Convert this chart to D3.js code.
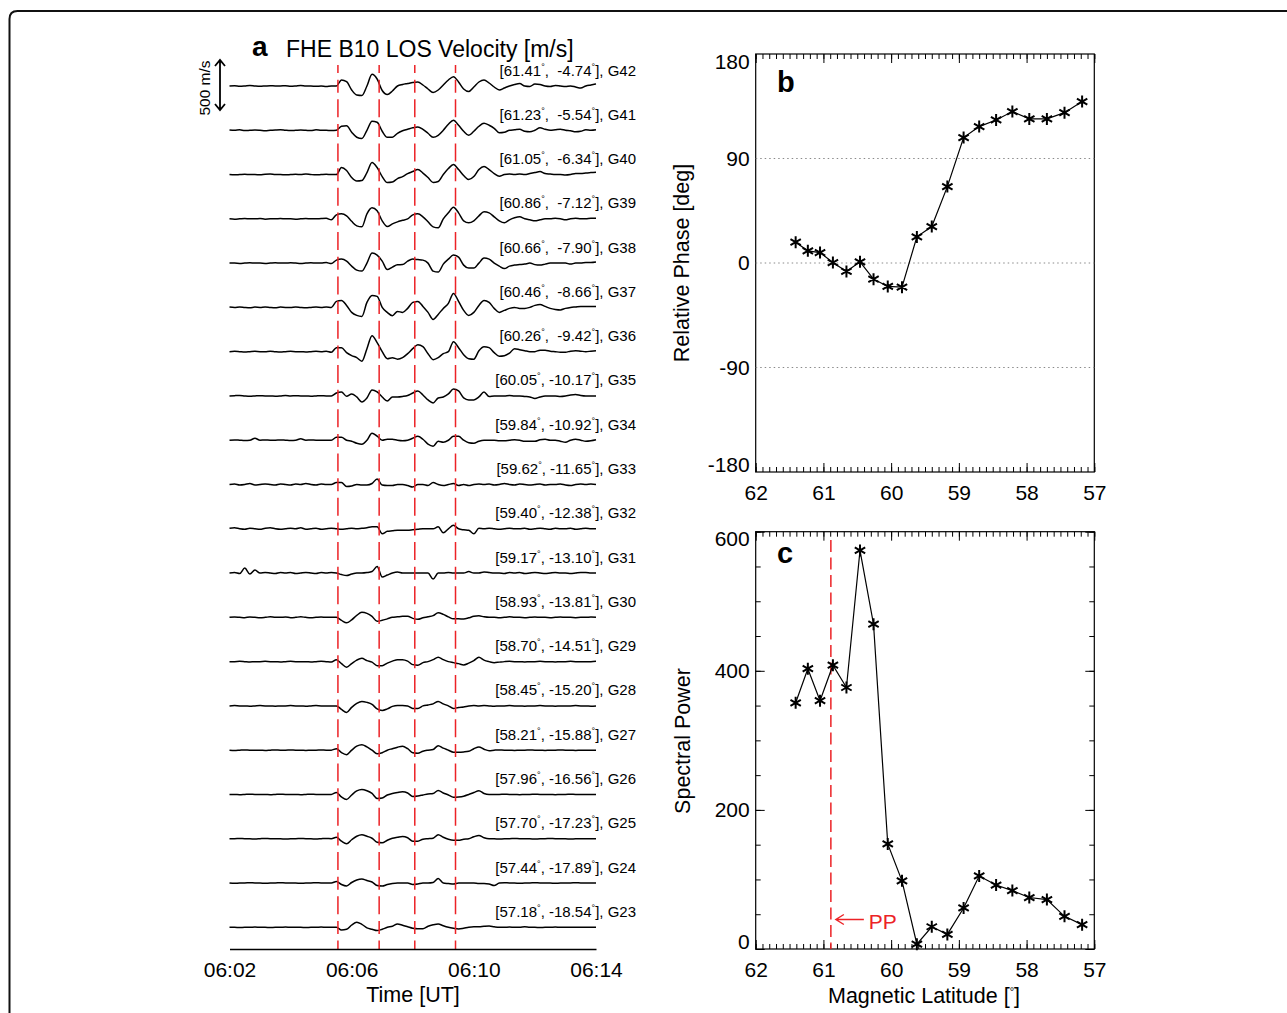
<!DOCTYPE html>
<html><head><meta charset="utf-8">
<script src="https://cdn.jsdelivr.net/npm/d3@7"></script>
<style>
body{margin:0;background:#fff;}
svg{display:block;font-family:"Liberation Sans",Arial,Helvetica,sans-serif;}
</style></head><body>
<svg id="c" width="1287" height="1013"></svg>
<script>
// ---------------- DATA ----------------
const gateNames = ["G42","G41","G40","G39","G38","G37","G36","G35","G34","G33","G32","G31","G30","G29","G28","G27","G26","G25","G24","G23"];
const gateLat = ["61.41","61.23","61.05","60.86","60.66","60.46","60.26","60.05","59.84","59.62","59.40","59.17","58.93","58.70","58.45","58.21","57.96","57.70","57.44","57.18"];
const gateLon = ["-4.74","-5.54","-6.34","-7.12","-7.90","-8.66","-9.42","-10.17","-10.92","-11.65","-12.38","-13.10","-13.81","-14.51","-15.20","-15.88","-16.56","-17.23","-17.89","-18.54"];
const timeStart = "06:02:00", timeEnd = "06:14:00";
const sampleSec = 10;
const timeTicks = ["06:02:00","06:06:00","06:10:00","06:14:00"];
const markTimes = ["06:05:33","06:06:54","06:08:04","06:09:24"];
const scaleBarMs = 500;

// LOS velocity deviations [m/s], one value every 10 s from 06:02:00 to 06:14:00
const v_G42 = [0,3,-3,0,5,0,-3,0,3,0, 0,3,-3,0,5,0,0,-3,0,-5, 0,0,60,43,-40,-90,-95,0,117,70, -45,-85,-50,0,15,25,35,40,10,-30, -65,-40,10,60,93,40,-30,-55,-10,40, 60,30,-10,-40,-20,0,15,25,0,-5, 20,15,0,-5,5,0,-5,0,-10,-20, 0,10,20];
const v_G41 = [3,0,5,-3,0,3,0,-5,0,3, 5,0,-3,0,3,0,-3,5,0,0, -3,0,40,45,-20,-70,-83,0,90,80, -10,-70,-70,-30,-5,10,25,33,10,-30, -70,-50,0,60,100,50,-10,-50,-10,40, 70,50,20,-25,-20,0,5,10,-10,-15, 0,25,10,0,5,10,0,-5,-15,-10, 5,0,5];
const v_G40 = [0,-3,0,3,0,0,-3,3,5,0, 0,-3,0,3,0,5,0,-3,0,3, 0,0,70,40,-30,-65,-60,20,120,70, -20,-80,-75,-40,-20,10,30,50,15,-30, -80,-70,0,60,100,50,-10,-50,-20,50, 80,50,10,-17,0,5,0,5,0,10, 20,30,10,5,0,0,-5,0,10,10, 15,20,23];
const v_G39 = [0,-3,0,3,0,0,3,-3,0,0, 3,0,0,-3,0,3,0,0,3,5, -10,40,50,30,-25,-70,-80,50,110,80, -20,-77,-50,-30,-15,0,40,50,20,-30, -80,-90,0,60,117,60,-20,-40,-20,30, 70,60,20,-20,-40,-10,10,20,0,-10, -20,-10,0,0,5,0,-10,0,5,0, 0,5,5];
const v_G38 = [0,0,-3,0,3,0,0,-3,0,3, 0,0,3,0,-3,0,3,0,0,5, -5,30,40,20,-30,-70,-80,0,100,80, 20,-65,-40,-17,-15,20,40,35,30,0, -80,-90,-10,40,80,60,-20,-50,-50,0, 50,40,0,-30,-55,-30,-20,-15,-10,0, -15,-20,-10,0,0,0,0,-10,0,0, 5,5,10];
const v_G37 = [3,0,5,0,-3,3,0,5,0,-3, 3,0,0,5,0,-3,0,3,0,5, 0,60,70,20,-50,-80,-90,50,120,110, 0,-50,-83,-40,-50,-10,50,60,10,-50, -120,-70,-10,40,140,60,-30,-80,-50,20, 70,50,-10,-50,-30,-10,0,-10,-10,0, 20,30,10,-10,-20,-25,-10,0,5,10, 10,10,10];
const v_G36 = [0,3,0,-3,0,3,0,0,5,0, -3,0,3,0,0,-3,0,3,0,5, -5,40,40,-10,-40,-60,-95,30,160,90, 0,-70,-60,-75,-60,-20,30,70,50,-20, -80,-60,-20,0,100,40,-30,-70,-75,10, 50,40,-10,-45,-40,-15,30,20,10,0, 0,15,15,5,0,-5,-5,5,10,5, 0,5,10];
const v_G35 = [0,3,5,0,-3,0,3,0,0,-3, 0,5,0,3,0,0,-3,0,3,0, 0,30,40,-3,20,-10,-60,-20,60,40, -10,-50,-10,-10,-5,5,30,50,10,-40, -70,-20,-10,20,70,50,-20,-40,-40,-10, 40,-5,0,0,0,5,0,0,-5,-10, -25,-10,0,0,0,-5,0,10,15,5, 0,0,0];
const v_G34 = [0,3,0,-3,0,20,0,3,0,0, 3,0,-3,0,15,0,3,0,0,0, 0,30,30,0,-10,-30,-40,0,70,40, 0,10,10,0,-5,0,20,40,10,-40, -60,-10,-20,0,40,40,0,-25,-30,-10, 0,0,0,-5,-5,0,5,0,-10,-10, -10,5,10,0,0,-10,-20,0,10,0, -10,-5,5];
const v_G33 = [0,5,-5,0,10,-5,0,5,0,-5, 5,0,-5,5,0,10,0,-5,5,0, 0,20,20,-20,-15,0,-5,-5,10,55, -5,-10,-10,0,0,-10,-25,0,0,-10, 20,0,-10,0,10,-10,0,-10,0,5, 0,5,-5,0,10,0,-5,5,0,-5, 0,5,-5,0,0,5,-5,-10,0,5, 0,5,0];
const v_G32 = [5,10,0,-5,5,0,-5,5,10,0, -5,0,5,0,10,-5,0,5,-5,0, 5,0,-5,0,5,0,5,10,20,20, -50,-25,-20,-15,-15,-15,-10,-5,0,0, 0,20,-40,0,35,0,-10,-15,-50,5, 0,5,0,-5,0,5,0,0,5,-5, 0,5,0,-5,5,0,0,5,-5,0, 5,0,0];
const v_G31 = [0,5,-5,50,-10,30,0,5,0,-5, 5,0,5,-5,0,5,0,-5,5,0, 5,0,-15,-25,-10,0,0,5,15,65, -40,-20,0,10,0,0,0,0,0,0, -60,0,0,5,0,0,0,15,0,0, 10,5,0,0,-5,5,0,5,-5,0, 5,0,-5,0,5,0,0,-5,0,5, 5,0,0];
const v_G30 = [0,3,0,-3,3,0,-3,0,5,0, 0,3,-3,0,5,0,-3,0,3,0, 0,0,-30,-55,-25,20,50,40,10,-40, -30,-15,0,5,10,10,-10,-20,-5,5, 17,45,30,5,-15,-15,-17,-5,10,15, 5,0,0,-5,0,5,0,0,-3,0, 3,0,0,-3,0,3,0,0,-3,0, 0,3,0];
const v_G29 = [0,0,3,0,-3,0,0,3,0,0, -3,0,3,0,0,0,-3,0,3,0, -3,20,-20,-55,-20,15,33,10,-5,-40, -40,-15,5,20,20,5,-30,-35,-10,0, 20,45,20,0,-10,-20,-33,-15,10,43, 15,0,-10,-5,0,3,0,0,-3,0, 0,3,0,0,-3,0,0,3,0,0, 0,0,3];
const v_G28 = [0,3,0,0,-3,0,3,0,0,-3, 0,0,3,0,0,-3,0,3,0,0, 0,0,-35,-65,-15,25,45,35,15,-30, -45,-30,-5,5,5,0,-25,-25,0,10, 20,45,20,0,-25,-15,-10,0,5,0, 3,0,-3,0,0,3,0,0,-3,0, 0,3,0,0,-3,0,0,0,3,0, 0,-3,0];
const v_G27 = [0,-3,0,3,0,0,0,-3,0,3, 0,0,3,0,0,-3,0,0,3,0, 0,15,-25,-45,0,40,55,33,0,-35, -25,0,15,30,40,15,-25,-30,-10,0, 7,45,20,0,-20,-20,-17,-10,15,33, 10,-5,0,3,0,0,-3,0,0,3, 0,0,-3,0,0,3,0,0,-3,0, 0,0,0];
const v_G26 = [0,0,-3,0,3,0,0,0,-3,0, 3,0,0,0,-3,0,3,0,0,0, 0,20,-25,-50,-5,35,50,37,10,-40, -35,-5,10,20,27,15,-20,-15,-5,5, 10,40,15,-5,-28,-25,-17,0,20,37, 10,0,0,0,3,0,0,-3,0,0, 3,0,0,0,-3,0,0,3,0,0, 0,0,0];
const v_G25 = [0,0,3,0,0,-3,0,3,0,0, 0,-3,0,0,3,0,0,-3,0,3, 0,15,-25,-50,-10,25,40,25,5,-35, -40,-15,5,15,23,10,-25,-25,-5,0, 5,40,15,-5,-15,-15,-5,0,20,33, 10,0,0,-3,0,0,3,0,0,0, -3,0,0,3,0,0,0,-3,0,0, 0,0,0];
const v_G24 = [0,-3,0,0,3,0,0,-3,0,0, 3,0,0,0,-3,0,0,3,0,0, 0,15,-15,-30,5,30,40,25,10,-25, -30,-15,-5,0,0,0,-15,-10,0,0, 5,45,0,-5,-10,0,0,0,0,-5, -5,-10,-25,0,3,0,0,-3,0,0, 3,0,0,0,-3,0,0,0,3,0, 0,0,0];
const v_G23 = [0,0,-3,0,0,3,0,0,-3,0, 0,3,0,0,0,-3,0,0,3,0, 0,0,-27,-20,23,50,30,-5,-20,-33, -20,0,10,33,20,5,-10,-15,-15,10, 25,33,15,0,-10,-17,-10,0,5,5, 10,13,5,0,0,3,0,0,5,0, 0,-3,0,0,3,0,0,0,0,0, 0,0,0];
const traces = [v_G42,v_G41,v_G40,v_G39,v_G38,v_G37,v_G36,v_G35,v_G34,v_G33,v_G32,v_G31,v_G30,v_G29,v_G28,v_G27,v_G26,v_G25,v_G24,v_G23];

// panels b / c (one value per gate, same order as gateLat)
const phaseLat = gateLat.map(Number);
const relPhase = [17.9,10.5,9.0,0.4,-7.3,1.0,-13.9,-20.2,-20.8,22.5,31.4,65.8,108,117.5,123.2,130.4,124.1,124.1,129.5,139];
const specPower = [354,403,357,408,376,573,467,151,98,7,32,21,59,105,92,84,74,71,47,35];
const ppLat = 60.89;
const latTicks = [62,61,60,59,58,57];
const phaseTicks = [-180,-90,0,90,180];
const phaseGrid = [-90,0,90];
const powerTicks = [0,200,400,600];

// ---------------- DRAWING ----------------
const svg = d3.select("#c");
const red = "#ec2226";
const FS = 21;

// outer frame (rounded top-left corner, continues beyond picture)
svg.append("path")
  .attr("d", "M9.5,1030 L9.5,19 Q9.5,11 17.5,11 L1300,11")
  .attr("fill","none").attr("stroke","#111").attr("stroke-width",2);

// ---- Panel a ----
const parseT = d3.timeParse("%H:%M:%S");
const t0 = parseT(timeStart);
const xT = d3.scaleTime().domain([t0, parseT(timeEnd)]).range([229.5, 596]);
const yRow = d3.scalePoint().domain(gateNames).range([86, 927.3]);
const amp = d3.scaleLinear().domain([-500, 500]).range([50, -50]);
const tAt = i => new Date(t0.getTime() + i * sampleSec * 1000);
const lineT = d3.line().x((v,i) => xT(tAt(i))).y(v => amp(v)).curve(d3.curveMonotoneX);

const gA = svg.append("g");
gateNames.forEach((g, k) => {
  const row = gA.append("g").attr("transform", `translate(0,${yRow(g)})`);
  row.append("path").attr("d", lineT(traces[k]))
    .attr("fill","none").attr("stroke","#000").attr("stroke-width",1.5).attr("stroke-linejoin","round");
  const lon = gateLon[k];
  const t = row.append("text").attr("x", 636).attr("y", -10.5)
    .attr("text-anchor","end").attr("font-size",15).style("white-space","pre");
  t.append("tspan").text("[" + gateLat[k]);
  t.append("tspan").attr("font-size",9).attr("dy",-6).text("°");
  t.append("tspan").attr("dy",6).text("," + (lon.length < 6 ? "  " : " ") + lon);
  t.append("tspan").attr("font-size",9).attr("dy",-6).text("°");
  t.append("tspan").attr("dy",6).text("], " + g);
});

// red dashed marker lines
markTimes.forEach(m => {
  const x = xT(parseT(m));
  gA.append("line").attr("x1",x).attr("x2",x).attr("y1",65).attr("y2",949)
    .attr("stroke",red).attr("stroke-width",1.5)
    .attr("stroke-dasharray","18,6.7,13,6.58").attr("stroke-dashoffset",10);
});

// time axis
const axT = svg.append("g").attr("transform","translate(0,949)")
  .call(d3.axisBottom(xT).tickValues(timeTicks.map(parseT)).tickSize(0).tickPadding(13)
    .tickFormat(d3.timeFormat("%H:%M")));
axT.attr("font-size",FS).attr("font-family",null);
axT.select(".domain").attr("stroke-width",1.3);
svg.append("text").attr("x",413).attr("y",1002).attr("text-anchor","middle")
  .attr("font-size",21.5).text("Time [UT]");

// title
svg.append("text").attr("x",252).attr("y",56).attr("font-size",28).attr("font-weight","bold").text("a");
svg.append("text").attr("x",286).attr("y",56.5).attr("font-size",23).text("FHE B10 LOS Velocity [m/s]");

// scale bar
const arrowX = 220, arrowC = 85;
const aTop = arrowC + amp(scaleBarMs/2), aBot = arrowC + amp(-scaleBarMs/2);
svg.append("path")
  .attr("d", `M${arrowX},${aTop}L${arrowX},${aBot}M${arrowX-5},${aTop+6}L${arrowX},${aTop}L${arrowX+5},${aTop+6}M${arrowX-5},${aBot-6}L${arrowX},${aBot}L${arrowX+5},${aBot-6}`)
  .attr("fill","none").attr("stroke","#000").attr("stroke-width",1.8);
svg.append("text").attr("transform",`translate(210,88) rotate(-90)`).attr("text-anchor","middle")
  .attr("font-size",15.5).text(scaleBarMs + " m/s");

// ---- panels b & c shared ----
const xL = d3.scaleLinear().domain([62,57]).range([755.7,1094.3]);
const minorLat = d3.range(570, 621).map(d => d/10);

function latFrame(y0, y1) {
  const g = svg.append("g");
  g.append("rect").attr("x",xL(62)).attr("y",y0).attr("width",xL(57)-xL(62)).attr("height",y1-y0)
    .attr("fill","none").attr("stroke","#000").attr("stroke-width",1.2);
  const add = (gen) => {
    const a = g.append("g").call(gen);
    a.select(".domain").remove();
    a.attr("font-size",FS).attr("font-family",null);
    return a;
  };
  add(d3.axisBottom(xL).tickValues(minorLat).tickSize(-5).tickFormat("")).attr("transform",`translate(0,${y1})`);
  add(d3.axisBottom(xL).tickValues(latTicks).tickSize(-9).tickPadding(13).tickFormat(d => d)).attr("transform",`translate(0,${y1})`);
  add(d3.axisTop(xL).tickValues(minorLat).tickSize(-5).tickFormat("")).attr("transform",`translate(0,${y0})`);
  add(d3.axisTop(xL).tickValues(latTicks).tickSize(-9).tickFormat("")).attr("transform",`translate(0,${y0})`);
  return {g, add};
}

function asterisk(x, y, r) {
  const p = d3.path();
  const c = r * Math.cos(Math.PI/6), s = r * Math.sin(Math.PI/6);
  p.moveTo(x, y - r); p.lineTo(x, y + r);
  p.moveTo(x - c, y - s); p.lineTo(x + c, y + s);
  p.moveTo(x - c, y + s); p.lineTo(x + c, y - s);
  return p.toString();
}

function shiftEnds(axisG, lo, hi) {
  axisG.selectAll(".tick text").attr("y", d => d === hi ? 7.5 : (d === lo ? -7 : 0));
}

// ---- Panel b ----
const yB = d3.scaleLinear().domain([-180,180]).range([472,54]);
const fb = latFrame(54, 472);
phaseGrid.forEach(v => {
  fb.g.append("line").attr("x1",xL(62)).attr("x2",xL(57)).attr("y1",yB(v)).attr("y2",yB(v))
    .attr("stroke","#8a8a8a").attr("stroke-width",1).attr("stroke-dasharray","1.5,3");
});
const axB = fb.add(d3.axisLeft(yB).tickValues(phaseTicks).tickSize(0).tickPadding(6).tickFormat(d => String(d)))
  .attr("transform",`translate(${xL(62)},0)`);
shiftEnds(axB, -180, 180);
fb.g.append("path").attr("d", d3.line().x((d,i) => xL(phaseLat[i])).y(d => yB(d))(relPhase))
  .attr("fill","none").attr("stroke","#000").attr("stroke-width",1.2);
fb.g.append("path").attr("d", relPhase.map((d,i) => asterisk(xL(phaseLat[i]), yB(d), 6)).join(""))
  .attr("fill","none").attr("stroke","#000").attr("stroke-width",2);
svg.append("text").attr("x",777).attr("y",91.5).attr("font-size",29).attr("font-weight","bold").text("b");
svg.append("text").attr("transform","translate(689,263) rotate(-90)").attr("text-anchor","middle")
  .attr("font-size",21.5).text("Relative Phase [deg]");

// ---- Panel c ----
const yC = d3.scaleLinear().domain([0,600]).range([949,531.7]);
const fc = latFrame(531.7, 949);
const minorPow = d3.range(0, 601, 50);
fc.add(d3.axisLeft(yC).tickValues(minorPow).tickSize(-5).tickFormat("")).attr("transform",`translate(${xL(62)},0)`);
const axC = fc.add(d3.axisLeft(yC).tickValues(powerTicks).tickSize(-9).tickPadding(6).tickFormat(d => String(d)))
  .attr("transform",`translate(${xL(62)},0)`);
shiftEnds(axC, 0, 600);
fc.add(d3.axisRight(yC).tickValues(minorPow).tickSize(-5).tickFormat("")).attr("transform",`translate(${xL(57)},0)`);
fc.add(d3.axisRight(yC).tickValues(powerTicks).tickSize(-9).tickFormat("")).attr("transform",`translate(${xL(57)},0)`);

const xPP = xL(ppLat);
fc.g.append("line").attr("x1",xPP).attr("x2",xPP).attr("y1",540).attr("y2",949)
  .attr("stroke",red).attr("stroke-width",1.5).attr("stroke-dasharray","12,5.5");
fc.g.append("path").attr("d", d3.line().x((d,i) => xL(phaseLat[i])).y(d => yC(d))(specPower))
  .attr("fill","none").attr("stroke","#000").attr("stroke-width",1.2);
fc.g.append("path").attr("d", specPower.map((d,i) => asterisk(xL(phaseLat[i]), yC(d), 6)).join(""))
  .attr("fill","none").attr("stroke","#000").attr("stroke-width",2);
// PP annotation
const ppY = 919.5;
fc.g.append("path")
  .attr("d", `M${xPP+33},${ppY}L${xPP+5},${ppY}M${xPP+13},${ppY-5}L${xPP+5},${ppY}L${xPP+13},${ppY+5}`)
  .attr("fill","none").attr("stroke",red).attr("stroke-width",1.4);
fc.g.append("text").attr("x",xPP+38).attr("y",929.3).attr("font-size",21).attr("fill",red).text("PP");

svg.append("text").attr("x",777).attr("y",563).attr("font-size",29).attr("font-weight","bold").text("c");
svg.append("text").attr("transform","translate(690,741) rotate(-90)").attr("text-anchor","middle")
  .attr("font-size",21.5).text("Spectral Power");
const mlt = svg.append("text").attr("x",924).attr("y",1003).attr("text-anchor","middle").attr("font-size",21.5);
mlt.append("tspan").text("Magnetic Latitude [");
mlt.append("tspan").attr("font-size",11).attr("dy",-8).text("°");
mlt.append("tspan").attr("dy",8).text("]");
</script>
</body></html>
